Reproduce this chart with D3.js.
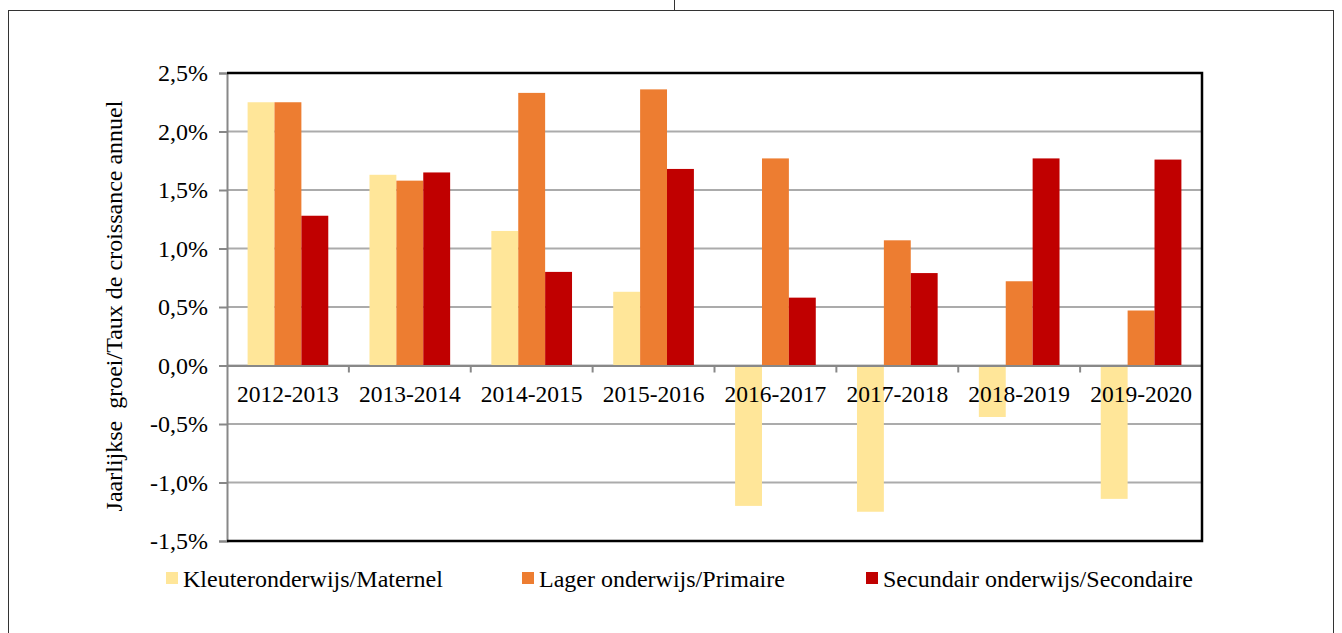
<!DOCTYPE html>
<html>
<head>
<meta charset="utf-8">
<script src="https://cdn.jsdelivr.net/npm/d3@7"></script>
<style>
  body { margin: 0; background: #fff; }
</style>
</head>
<body>
<div id="chart"></div>
<script>
var categories = ["2012-2013", "2013-2014", "2014-2015", "2015-2016", "2016-2017", "2017-2018", "2018-2019", "2019-2020"];
var seriesNames = ["Kleuteronderwijs/Maternel", "Lager onderwijs/Primaire", "Secundair onderwijs/Secondaire"];
var kleuter = [2.25, 1.63, 1.15, 0.63, -1.20, -1.25, -0.44, -1.14];
var lager = [2.25, 1.58, 2.33, 2.36, 1.77, 1.07, 0.72, 0.47];
var secundair = [1.28, 1.65, 0.80, 1.68, 0.58, 0.79, 1.77, 1.76];
var yTicks = [-1.5, -1.0, -0.5, 0, 0.5, 1.0, 1.5, 2.0, 2.5];
var colors = ["#FFE699", "#ED7D31", "#C00000"];

var FONT = "'Liberation Serif', 'Times New Roman', Times, serif";
var W = 1342, H = 633;
var m = {top: 73, right: 140, bottom: 92, left: 227};
var w = W - m.left - m.right, h = H - m.top - m.bottom;

var svg = d3.select("#chart").append("svg")
    .attr("width", W)
    .attr("height", H)
    .style("font-family", FONT);

// outer frame
svg.append("rect")
    .attr("x", 8.5).attr("y", 10.5)
    .attr("width", 1325).attr("height", 640)
    .attr("fill", "none").attr("stroke", "#333").attr("stroke-width", 1);
svg.append("line")
    .attr("x1", 674.5).attr("x2", 674.5).attr("y1", 0).attr("y2", 10)
    .attr("stroke", "#333").attr("stroke-width", 1);

var g = svg.append("g")
    .attr("transform", "translate(" + m.left + "," + m.top + ")");

var x0 = d3.scaleBand().domain(categories).range([0, w]).padding(0);
var x1 = d3.scaleBand().domain([0, 1, 2]).range([0, x0.bandwidth()]).paddingInner(0).paddingOuter(0.766);
var y = d3.scaleLinear().domain([-1.5, 2.5]).range([h, 0]);

var fmt = function(d) { return d.toFixed(1).replace(".", ",") + "%"; };

// gridlines
g.selectAll(".grid")
    .data(yTicks)
    .enter().append("line")
    .attr("class", "grid")
    .attr("x1", 0).attr("x2", w)
    .attr("y1", function(d) { return y(d); })
    .attr("y2", function(d) { return y(d); })
    .attr("stroke", "#ababab").attr("stroke-width", 2);

// bars
var rows = categories.map(function(c, i) { return [kleuter[i], lager[i], secundair[i]]; });
var group = g.selectAll(".cat")
    .data(rows)
    .enter().append("g")
    .attr("class", "cat")
    .attr("transform", function(d, i) { return "translate(" + x0(categories[i]) + ",0)"; });

group.selectAll("rect")
    .data(function(d) { return d; })
    .enter().append("rect")
    .attr("x", function(d, j) { return x1(j); })
    .attr("width", x1.bandwidth())
    .attr("y", function(d) { return y(Math.max(0, d)); })
    .attr("height", function(d) { return Math.abs(y(d) - y(0)); })
    .attr("fill", function(d, j) { return colors[j]; });

// y axis
var yAxis = d3.axisLeft(y).tickValues(yTicks).tickFormat(fmt).tickSize(8).tickPadding(11);
var ya = g.append("g").call(yAxis).attr("font-family", FONT);
ya.select(".domain").attr("stroke", "#888").attr("stroke-width", 2);
ya.selectAll(".tick line").attr("stroke", "#888").attr("stroke-width", 2);
ya.selectAll(".tick text")
    .style("font-family", FONT)
    .style("font-size", "24px")
    .attr("fill", "#000")
    .attr("dy", "0.33em");

// zero line with category ticks
var xa = g.append("g")
    .attr("transform", "translate(0," + y(0) + ")")
    .call(d3.axisBottom(x0).tickSize(0).tickFormat(""));
xa.select(".domain").attr("stroke", "#888").attr("stroke-width", 2);
g.selectAll(".ctick")
    .data(categories.slice(1))
    .enter().append("line")
    .attr("class", "ctick")
    .attr("x1", function(d) { return x0(d); })
    .attr("x2", function(d) { return x0(d); })
    .attr("y1", y(0)).attr("y2", y(0) + 7)
    .attr("stroke", "#888").attr("stroke-width", 2);

// category labels (drawn above bars)
g.selectAll(".clabel")
    .data(categories)
    .enter().append("text")
    .attr("class", "clabel")
    .attr("x", function(d) { return x0(d) + x0.bandwidth() / 2; })
    .attr("y", y(0) + 36)
    .attr("text-anchor", "middle")
    .style("font-family", FONT)
    .style("font-size", "23.5px")
    .text(function(d) { return d; });

// plot border: top, right, bottom
g.append("path")
    .attr("d", "M0,0H" + w + "V" + h + "H0")
    .attr("fill", "none").attr("stroke", "#000").attr("stroke-width", 2.5);

// y axis title
g.append("text")
    .attr("transform", "rotate(-90)")
    .attr("x", -h / 2 + 1)
    .attr("y", -105)
    .attr("text-anchor", "middle")
    .style("font-family", FONT)
    .style("font-size", "24px")
    .style("white-space", "pre")
    .text("Jaarlijkse  groei/Taux de croissance annuel");

// legend
var legendX = [166, 522, 866];
var lg = svg.selectAll(".legend")
    .data(seriesNames)
    .enter().append("g")
    .attr("class", "legend")
    .attr("transform", function(d, i) { return "translate(" + legendX[i] + ",572)"; });
lg.append("rect")
    .attr("width", 12).attr("height", 12)
    .attr("fill", function(d, i) { return colors[i]; });
lg.append("text")
    .attr("x", 17).attr("y", 15)
    .style("font-family", FONT)
    .style("font-size", "24px")
    .text(function(d) { return d; });
</script>
</body>
</html>
